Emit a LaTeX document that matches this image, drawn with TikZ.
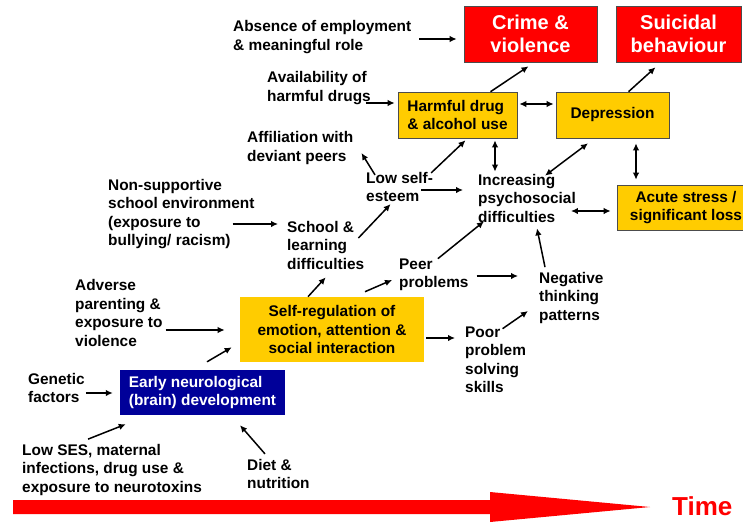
\documentclass[tikz,border=0pt]{standalone}
\usepackage{fontspec}
\setmainfont{Liberation Sans}
\usepackage{tikz}
\usetikzlibrary{arrows.meta}

\definecolor{gold}{RGB}{255,204,0}
\definecolor{navy}{RGB}{0,0,153}

\begin{document}
\begin{tikzpicture}[x=1pt,y=-1pt,
    lbl/.style={align=left,inner sep=0pt,anchor=west,font=\fontsize{15.4}{18.5}\selectfont\bfseries},
    ybox/.style={draw=black!70,line width=0.6pt,fill=gold,inner sep=0pt,font=\fontsize{15.4}{18.5}\selectfont\bfseries},
    rbox/.style={draw=black!70,line width=0.6pt,fill=red,text=white,align=center,inner sep=0pt,minimum height=56pt,font=\fontsize{20}{23}\selectfont\bfseries},
    arr/.style={-{Latex[length=7pt,width=6.5pt]},line width=1.5pt},
    darr/.style={{Latex[length=7pt,width=6.5pt]}-{Latex[length=7pt,width=6.5pt]},line width=1.5pt}]
    \useasboundingbox (0,0) rectangle (743,528);

    \node[rbox,minimum width=133pt] (crime) at (530.5,34) {Crime \&\\violence};
    \node[rbox,minimum width=125pt] (suicidal) at (678.5,34) {Suicidal\\behaviour};
    \node[ybox,align=left,minimum width=119pt,minimum height=46pt] (harmful) at (457.5,115) {Harmful drug\\\& alcohol use};
    \node[ybox,minimum width=113pt,minimum height=46pt] (depression) at (612.5,115) {Depression};
    \node[ybox,align=center,minimum width=138pt,minimum height=45pt] (acute) at (686,207.5) {Acute stress /\\significant loss};
    \node[ybox,draw=none,align=center,minimum width=184pt,minimum height=65pt] (selfreg) at (332,329.5) {Self-regulation of\\emotion, attention \&\\social interaction};
    \node[fill=navy,text=white,align=left,inner sep=0pt,minimum width=165pt,minimum height=45pt,font=\fontsize{15.4}{18.5}\selectfont\bfseries] (early) at (202.5,392.5) {Early neurological\\(brain) development};

    \node[lbl] (absence) at (233,37) {Absence of employment\\\& meaningful role};
    \node[lbl] (avail) at (267,88) {Availability of\\harmful drugs};
    \node[lbl] (affil) at (247,148) {Affiliation with\\deviant peers};
    \node[lbl] (lowse) at (366,187) {Low self-\\esteem};
    \node[lbl] (incr) at (478,198) {Increasing\\psychosocial\\difficulties};
    \node[lbl] (nonsup) at (108,214) {Non-supportive\\school environment\\(exposure to\\bullying/ racism)};
    \node[lbl] (school) at (287,245) {School \&\\learning\\difficulties};
    \node[lbl] (peer) at (399,275) {Peer\\problems};
    \node[lbl] (negthink) at (539,298) {Negative\\thinking\\patterns};
    \node[lbl] (adverse) at (75,313) {Adverse\\parenting \&\\exposure to\\violence};
    \node[lbl] (poor) at (465,360) {Poor\\problem\\solving\\skills};
    \node[lbl] (genetic) at (28,388) {Genetic\\factors};
    \node[lbl] (lowses) at (22,470) {Low SES, maternal\\infections, drug use \&\\exposure to neurotoxins};
    \node[lbl] (diet) at (247,474) {Diet \&\\nutrition};
    \node[lbl,text=red,font=\fontsize{26}{30}\selectfont\bfseries] (time) at (672,506) {Time};

    \draw[arr] ([shift={(8,2)}]absence.east) -- ([shift={(-7,5)}]crime.west);
    \draw[arr] ([shift={(-5,15)}]avail.east) -- ([shift={(-3,-12)}]harmful.west);
    \draw[arr] ([shift={(33,0)}]harmful.north) -- ([shift={(-2,4)}]crime.south);
    \draw[darr] ([shift={(2,-11)}]harmful.east) -- ([shift={(-2,-11)}]depression.west);
    \draw[arr] ([shift={(16,0)}]depression.north) -- ([shift={(-23,5)}]suicidal.south);
    \draw[arr] ([shift={(9,3)}]lowse.north west) -- ([shift={(8,5)}]affil.east);
    \draw[arr] ([shift={(-2,1)}]lowse.north east) -- ([shift={(8,2)}]harmful.south);
    \draw[darr] ([shift={(37.5,2)}]harmful.south) -- ([shift={(17,-2)}]incr.north west);
    \draw[arr] ([shift={(-12,3)}]lowse.east) -- ([shift={(-15,-8)}]incr.west);
    \draw[darr] ([shift={(18,2)}]incr.north) -- ([shift={(-24.5,5)}]depression.south);
    \draw[darr] ([shift={(23.5,5)}]depression.south) -- ([shift={(-50,-5)}]acute.north);
    \draw[darr] ([shift={(-5,13)}]incr.east) -- ([shift={(-6,3.5)}]acute.west);
    \draw[arr] ([shift={(-22,10)}]nonsup.east) -- ([shift={(-9,-21)}]school.west);
    \draw[arr] ([shift={(-6,-7)}]school.east) -- ([shift={(-9,2)}]lowse.south);
    \draw[arr] ([shift={(4,0)}]peer.north) -- ([shift={(6,-1)}]incr.south west);
    \draw[arr] ([shift={(8,1)}]peer.east) -- ([shift={(-21,-22)}]negthink.west);
    \draw[arr] ([shift={(6,-5)}]negthink.north west) -- ([shift={(10,6)}]incr.south);
    \draw[arr] ([shift={(-24,0)}]selfreg.north) -- ([shift={(0,8)}]school.south);
    \draw[arr] ([shift={(33,-5)}]selfreg.north) -- ([shift={(-7,5)}]peer.west);
    \draw[arr] ([shift={(3,17)}]adverse.east) -- ([shift={(-15,0.5)}]selfreg.west);
    \draw[arr] ([shift={(2,8.5)}]selfreg.east) -- ([shift={(-10,-22)}]poor.west);
    \draw[arr] ([shift={(7,2)}]poor.north) -- ([shift={(-11,13)}]negthink.west);
    \draw[arr] ([shift={(4.5,-8)}]early.north) -- ([shift={(-8,-15)}]selfreg.south west);
    \draw[arr] ([shift={(1,5)}]genetic.east) -- ([shift={(-7,0.5)}]early.west);
    \draw[arr] ([shift={(-24,-5)}]lowses.north) -- ([shift={(6,9)}]early.south west);
    \draw[arr] ([shift={(18,-5)}]diet.north west) -- ([shift={(37.5,10)}]early.south);

    \fill[red] (13,500) -- (490,500) -- (490,492) -- (650,507) -- (490,522) -- (490,514) -- (13,514) -- cycle;
\end{tikzpicture}
\end{document}
